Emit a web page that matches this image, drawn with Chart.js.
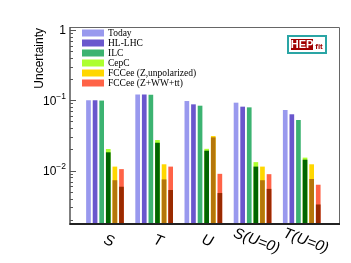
<!DOCTYPE html>
<html>
<head>
<meta charset="utf-8">
<script src="https://cdn.jsdelivr.net/npm/chart.js@4.4.0/dist/chart.umd.min.js"></script>
<style>
  html, body { margin: 0; padding: 0; background: #fff; overflow: hidden; }
</style>
</head>
<body>
<canvas id="chart" width="351" height="263"></canvas>
<script>
const categories = ["S", "T", "U", "S(U=0)", "T(U=0)"];
const seriesNames = ["Today", "HL-LHC", "ILC", "CepC", "FCCee (Z,unpolarized)", "FCCee (Z+WW+tt)"];

const today = [0.100, 0.121, 0.0975, 0.0924, 0.0727];
const hlLhc = [0.100, 0.121, 0.0875, 0.0811, 0.0632];
const ilc = [0.099, 0.120, 0.0837, 0.0793, 0.0524];
const cepc = [0.0203, 0.0272, 0.0204, 0.0132, 0.0153];
const cepcDark = [0.0182, 0.0249, 0.0192, 0.0114, 0.0143];
const fccZ = [0.0114, 0.0123, 0.0310, 0.0114, 0.0123];
const fccZDark = [0.0073, 0.0075, 0.0297, 0.0073, 0.0076];
const fccAll = [0.0105, 0.0114, 0.0090, 0.0089, 0.0063];
const fccAllDark = [0.0059, 0.0053, 0.0048, 0.0055, 0.0033];

const yTickValues = [1, 0.1, 0.01];
const yTickLabels = [["1", ""], ["10", "\u22121"], ["10", "\u22122"]];

const colors = ["#9999ee", "#6a57cd", "#3cb371", "#adff2f", "#ffd700", "#ff6347"];
const darkColors = ["#006400", "#b5760a", "#9a2a00"];

function pts(arr) {
  return arr.map((v, i) => ({ x: i + 1, y: v }));
}

// dark part listed before its light bar so it is painted on top
const datasets = [
  { label: seriesNames[0], data: pts(today), backgroundColor: colors[0], stack: "s1" },
  { label: seriesNames[1], data: pts(hlLhc), backgroundColor: colors[1], stack: "s2" },
  { label: seriesNames[2], data: pts(ilc), backgroundColor: colors[2], stack: "s3" },
  { label: "", data: pts(cepcDark), backgroundColor: darkColors[0], stack: "s4" },
  { label: seriesNames[3], data: pts(cepc), backgroundColor: colors[3], stack: "s4" },
  { label: "", data: pts(fccZDark), backgroundColor: darkColors[1], stack: "s5" },
  { label: seriesNames[4], data: pts(fccZ), backgroundColor: colors[4], stack: "s5" },
  { label: "", data: pts(fccAllDark), backgroundColor: darkColors[2], stack: "s6" },
  { label: seriesNames[5], data: pts(fccAll), backgroundColor: colors[5], stack: "s6" }
];

const decorations = {
  id: "decorations",
  beforeDatasetsDraw(chart) {
    const { ctx, chartArea: a, scales: { y } } = chart;
    ctx.save();
    // frame top and right
    ctx.strokeStyle = "#666";
    ctx.lineWidth = 1;
    ctx.beginPath();
    ctx.moveTo(a.left, a.top + 0.5);
    ctx.lineTo(a.right - 0.5, a.top + 0.5);
    ctx.lineTo(a.right - 0.5, a.bottom);
    ctx.stroke();
    // y axis
    ctx.strokeStyle = "#555";
    ctx.lineWidth = 1.5;
    ctx.beginPath();
    ctx.moveTo(a.left, a.top);
    ctx.lineTo(a.left, a.bottom);
    ctx.stroke();
    // log ticks inside the frame
    ctx.lineWidth = 1;
    for (let k = -3; k <= 0; k++) {
      for (let m = 1; m <= 9; m++) {
        const v = m * Math.pow(10, k);
        if (v < y.min || v > y.max) continue;
        const py = Math.round(y.getPixelForValue(v)) + 0.5;
        ctx.beginPath();
        ctx.moveTo(a.left, py);
        ctx.lineTo(a.left + (m === 1 ? 6 : 3), py);
        ctx.stroke();
      }
    }
    // bottom axis
    ctx.strokeStyle = "#222";
    ctx.lineWidth = 2;
    ctx.beginPath();
    ctx.moveTo(a.left - 0.75, a.bottom + 1);
    ctx.lineTo(a.right, a.bottom + 1);
    ctx.stroke();
    ctx.restore();
  },
  afterDraw(chart) {
    const { ctx, chartArea: a, scales: { x, y } } = chart;
    ctx.save();
    ctx.fillStyle = "#000";

    // y tick labels with exponents
    yTickValues.forEach((v, i) => {
      const py = y.getPixelForValue(v);
      const [base, exp] = yTickLabels[i];
      ctx.font = '12px "Liberation Sans"';
      const wb = ctx.measureText(base).width;
      ctx.font = '8.5px "Liberation Sans"';
      const we = exp ? ctx.measureText(exp).width : 0;
      const right = a.left - 4;
      ctx.textAlign = "left";
      ctx.textBaseline = "middle";
      ctx.font = '12px "Liberation Sans"';
      ctx.fillText(base, right - we - wb, py + 1);
      if (exp) {
        ctx.font = '8.5px "Liberation Sans"';
        ctx.fillText(exp, right - we, py - 4);
      }
    });

    // y title
    ctx.save();
    ctx.translate(40, a.top + 1);
    ctx.rotate(-Math.PI / 2);
    ctx.font = '12px "Liberation Sans"';
    ctx.textAlign = "right";
    ctx.textBaseline = "middle";
    ctx.fillText("Uncertainty", 0, 0);
    ctx.restore();

    // category labels, slanted
    ctx.font = 'italic 15px "Liberation Sans"';
    ctx.textAlign = "center";
    ctx.textBaseline = "middle";
    categories.forEach((c, i) => {
      const px = x.getPixelForValue(i + 1);
      ctx.save();
      ctx.translate(px + 4, a.bottom + 18);
      ctx.rotate(20 * Math.PI / 180);
      ctx.fillText(c, 0, 0);
      ctx.restore();
    });

    // legend
    ctx.textAlign = "left";
    ctx.textBaseline = "middle";
    ctx.font = '9.5px "Liberation Serif"';
    seriesNames.forEach((name, i) => {
      const cy = a.top + 6 + i * 10;
      ctx.fillStyle = colors[i];
      ctx.fillRect(a.left + 12, cy - 3.5, 22, 7);
      ctx.fillStyle = "#000";
      ctx.fillText(name, a.left + 38, cy + 0.5);
    });

    // HEPfit logo
    const lx = a.right - 52, ly = a.top + 9;
    ctx.strokeStyle = "#2aa5a5";
    ctx.lineWidth = 2;
    ctx.strokeRect(lx, ly, 38, 17);
    ctx.fillStyle = "#a00000";
    ctx.fillRect(lx + 3, ly + 3, 22, 11);
    ctx.fillStyle = "#fff";
    ctx.font = 'bold 11px "Liberation Sans"';
    ctx.textAlign = "center";
    ctx.fillText("HEP", lx + 14, ly + 9);
    ctx.fillStyle = "#a00000";
    ctx.font = 'bold 8px "Liberation Sans"';
    ctx.fillText("fit", lx + 31, ly + 10.5);
    ctx.restore();
  }
};

new Chart(document.getElementById("chart"), {
  type: "bar",
  data: { datasets },
  options: {
    responsive: false,
    animation: false,
    devicePixelRatio: 1,
    categoryPercentage: 0.805,
    barPercentage: 0.71,
    layout: { padding: { left: 70, top: 27, right: 11, bottom: 40 } },
    plugins: { legend: { display: false }, tooltip: { enabled: false } },
    scales: {
      x: { type: "linear", display: false, offset: false, min: 0.289, max: 5.778 },
      y: { type: "logarithmic", display: false, stacked: false, min: 0.0018, max: 1.1 }
    }
  },
  plugins: [decorations]
});
</script>
</body>
</html>
